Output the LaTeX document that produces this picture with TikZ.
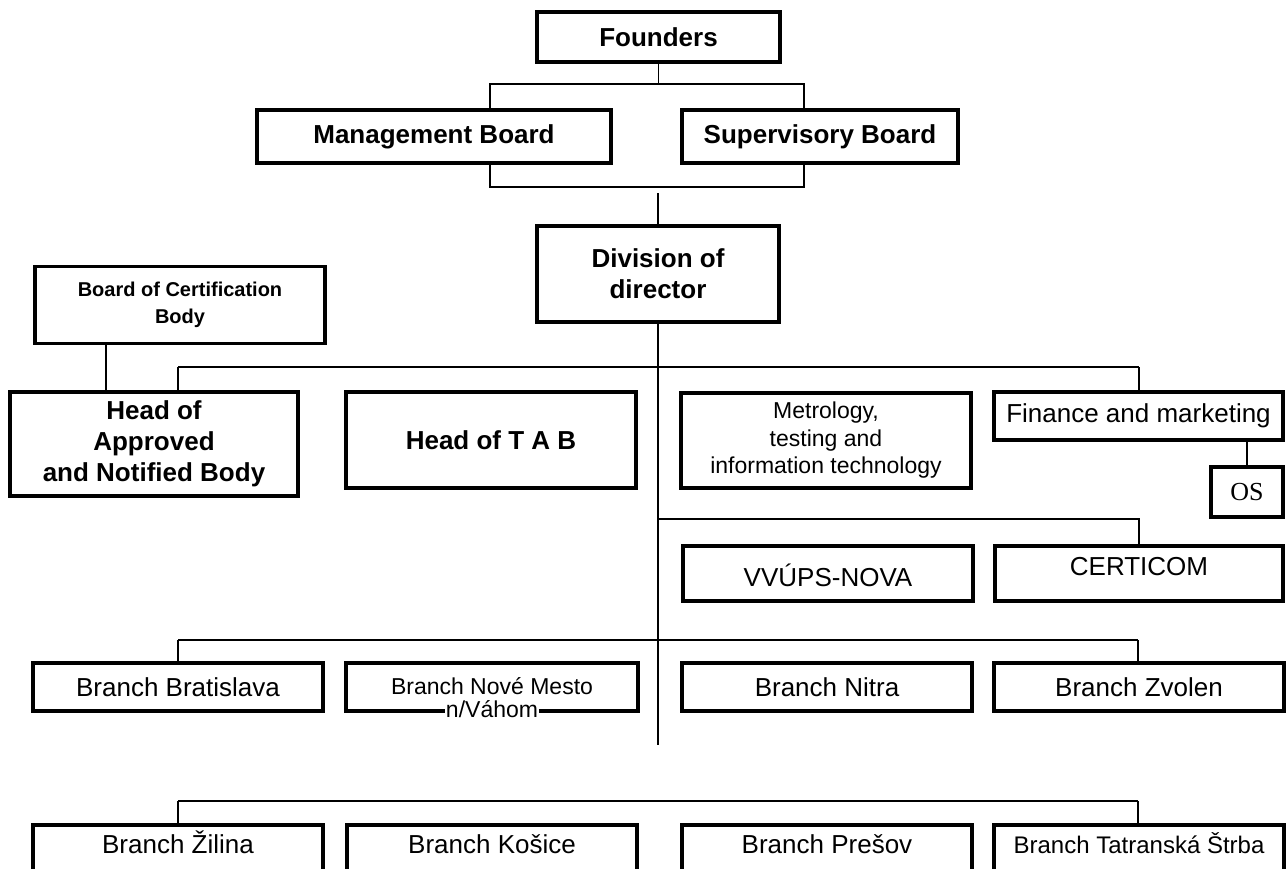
\documentclass[tikz,border=0pt]{standalone}
\usepackage{fontspec}
\setmainfont{Liberation Sans}
\newfontfamily\osfont{Liberation Serif}
\begin{document}
\begin{tikzpicture}[x=1pt,y=-1pt,
  box/.style={draw, line width=3.2pt, rectangle, inner sep=0pt, align=center},
  conn/.style={line width=1.7pt},
  bus/.style={line width=2.8pt},
  bft/.style={font=\fontsize{26}{31}\selectfont\bfseries},
  rft/.style={font=\fontsize{26}{30}\selectfont},
  sft/.style={font=\fontsize{23}{25}\selectfont},
  rowone/.style={draw, line width=3.2pt, rectangle, inner sep=0pt, minimum width=290pt, minimum height=48pt, text height=19pt, text depth=0pt},
  rowtwo/.style={box, rft, minimum width=290pt, minimum height=65pt, text height=20pt, text depth=29pt}
]
\useasboundingbox (0,0) rectangle (1288,868);
% top
\node[box,bft,minimum width=243pt,minimum height=50pt] (founders) at (658.5,37) {Founders};
\node[box,bft,minimum width=354pt,minimum height=53pt] (mgmt) at (434,136.5) {Management Board};
\node[box,bft,minimum width=276pt,minimum height=53pt] (sup) at (820,136.5) {Supervisory Board};
\node[box,bft,minimum width=242pt,minimum height=96pt] (div) at (658,274) {Division of\\director};
\node[box,font=\fontsize{20}{27}\selectfont\bfseries,minimum width=290pt,minimum height=77pt] (cert) at (180,305) {Board of Certification\\Body};
% second level
\node[box,bft,minimum width=288pt,minimum height=104pt] (appr) at (154,444) {Head of\\Approved\\and Notified Body};
\node[box,bft,minimum width=290pt,minimum height=96pt] (tab) at (491,440) {Head of T A B};
\node[box,font=\fontsize{23}{27.5}\selectfont,minimum width=290pt,minimum height=95pt] (metro) at (826,440.5) {Metrology,\\testing and\\information technology};
\node[box,rft,minimum width=289pt,minimum height=48pt] (fin) at (1138.5,416) {Finance and marketing};
\node[box,font=\fontsize{26}{30}\osfont,minimum width=72pt,minimum height=50pt] (os) at (1247,492) {OS};
\node[box,rft,minimum width=290pt,minimum height=55pt,text height=26pt,text depth=0pt] (vv) at (828,573.5) {VVÚPS-NOVA};
\node[box,rft,minimum width=288pt,minimum height=55pt,text height=19pt,text depth=15pt] (cert2) at (1139,573.5) {CERTICOM};
% branches row 1
\node[rowone,rft] (bra) at (178,687) {Branch Bratislava};
\node[rowone,sft,minimum width=292pt,text height=14pt,
  label={[name=nmsub,font=\fontsize{23}{25}\selectfont,fill=white,inner sep=1pt,anchor=base,yshift=-5pt]south:n/Váhom}] (nm) at (492,687) {Branch Nové Mesto};
\node[rowone,rft] (nit) at (827,687) {Branch Nitra};
\node[rowone,rft] (zvo) at (1139,687) {Branch Zvolen};
% branches row 2
\node[rowtwo] (zil) at (178,857.5) {Branch Žilina};
\node[rowtwo] (kos) at (492,857.5) {Branch Košice};
\node[rowtwo] (pre) at (827,857.5) {Branch Prešov};
\node[rowtwo,font=\fontsize{24}{28}\selectfont] (tat) at (1139,857.5) {Branch Tatranská Štrba};

% junction coordinates
\coordinate (fj) at (658.5,84);
\coordinate (fl) at (490,84);
\coordinate (fr) at (804,84);
\coordinate (bl) at (490,187);
\coordinate (br) at (804,187);
\coordinate (dtop) at (658,193);
\coordinate (h1l) at (178,367);
\coordinate (h1r) at (1139,367);
\coordinate (h2l) at (658,519);
\coordinate (h2r) at (1139,519);
\coordinate (h3l) at (178,640);
\coordinate (h3r) at (1138,640);
\coordinate (h4l) at (178,801);
\coordinate (h4r) at (1138,801);
\coordinate (trunkend) at (658,745);

% connectors
\draw[conn] (founders.south) -- (fj);
\draw[conn] (mgmt.north -| fl) -- (fl) -- (fr) -- (sup.north -| fr);
\draw[conn] (mgmt.south -| bl) -- (bl) -- (br) -- (sup.south -| br);
\draw[conn] (dtop) -- (div.north);
\draw[conn] (div.south) -- (trunkend);
\draw[conn] (h1l) -- (h1r);
\draw[conn] (h1l) -- (appr.north -| h1l);
\draw[conn] (tab.north -| 490,0) -- (tab.north -| 490,367);
\draw[conn] (metro.north -| 826,0) -- (metro.north -| 826,367);
\draw[conn] (h1r) -- (fin.north -| h1r);
\draw[conn] (cert.south -| 106,0) -- (appr.north -| 106,0);
\draw[conn] (fin.south -| os.north) -- (os.north);
\draw[conn] (h2l) -- (h2r) -- (cert2.north -| h2r);
\draw[conn] (vv.north -| 826,0) -- (vv.north -| 826,519);
\draw[bus] (h3l) -- (h3r);
\draw[conn] (h3l) -- (bra.north -| h3l);
\draw[conn] (nm.north -| 490,640) -- (nm.north -| 490,0);
\draw[conn] (nit.north -| 826,640) -- (nit.north -| 826,0);
\draw[conn] (h3r) -- (zvo.north -| h3r);
\draw[bus] (h4l) -- (h4r);
\draw[conn] (h4l) -- (zil.north -| h4l);
\draw[conn] (kos.north -| 490,801) -- (kos.north -| 490,0);
\draw[conn] (pre.north -| 826,801) -- (pre.north -| 826,0);
\draw[conn] (h4r) -- (tat.north -| h4r);
\end{tikzpicture}
\end{document}
